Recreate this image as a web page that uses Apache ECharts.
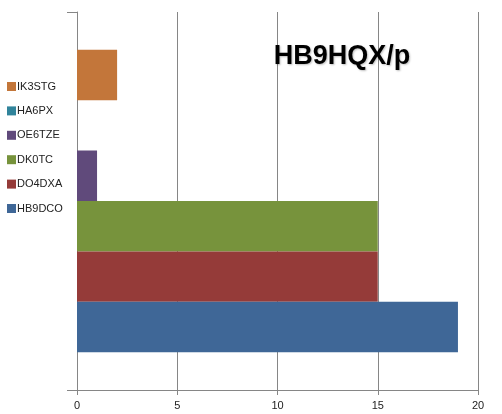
<!DOCTYPE html>
<html><head><meta charset="utf-8">
<script src="https://cdn.jsdelivr.net/npm/echarts@6/dist/echarts.min.js"></script>
<style>html,body{margin:0;padding:0;background:#fff}#c{width:502px;height:414px}</style>
</head><body><div id="c"></div>
<script>
var seriesNames = ['HB9DCO', 'DO4DXA', 'DK0TC', 'OE6TZE', 'HA6PX', 'IK3STG'];
var seriesValues = [19, 15, 15, 1, 0, 2];
var seriesColors = ['#3F6797', '#953B39', '#77933C', '#604A7B', '#31849B', '#C3763A'];
var categories = [''];
var xTicks = [0, 5, 10, 15, 20];
var titleText = 'HB9HQX/p';

var chart = echarts.init(document.getElementById('c'));
var series = [];
for (var i = seriesNames.length - 1; i >= 0; i--) {
  series.push({
    name: seriesNames[i], type: 'bar', data: [seriesValues[i]],
    itemStyle: { color: seriesColors[i] },
    barGap: '0%', barCategoryGap: '20%'
  });
}
chart.setOption({
  animation: false,
  title: { text: titleText, left: 337, textAlign: 'center', top: 38,
    textStyle: { fontFamily: 'Liberation Sans, Arial', fontSize: 27, fontWeight: 'bold', color: '#000',
      textShadowColor: 'rgba(0,0,0,0.25)', textShadowBlur: 2, textShadowOffsetX: 1, textShadowOffsetY: 1 } },
  legend: {
    orient: 'vertical', left: 2, top: 76, itemGap: 13.4, itemWidth: 9, itemHeight: 9,
    data: seriesNames.slice().reverse(),
    icon: 'rect',
    textStyle: { fontFamily: 'Liberation Sans, Arial', fontSize: 11, color: '#222', padding: [0, 0, 0, -4] }
  },
  grid: { left: 77, right: 24, top: 12, bottom: 24, containLabel: false },
  xAxis: {
    type: 'value', min: xTicks[0], max: xTicks[xTicks.length - 1], interval: 5,
    axisLine: { show: true, lineStyle: { color: '#868686' } },
    axisTick: { show: true, length: 5, lineStyle: { color: '#868686' } },
    splitLine: { show: true, lineStyle: { color: '#868686' } },
    axisLabel: { fontFamily: 'Liberation Sans, Arial', fontSize: 11, color: '#222', margin: 10 }
  },
  yAxis: {
    type: 'category', data: categories,
    axisLine: { show: true, lineStyle: { color: '#868686' } },
    axisTick: { show: true, length: 10, lineStyle: { color: '#868686' } },
    axisLabel: { show: false }
  },
  series: series
});
</script></body></html>
